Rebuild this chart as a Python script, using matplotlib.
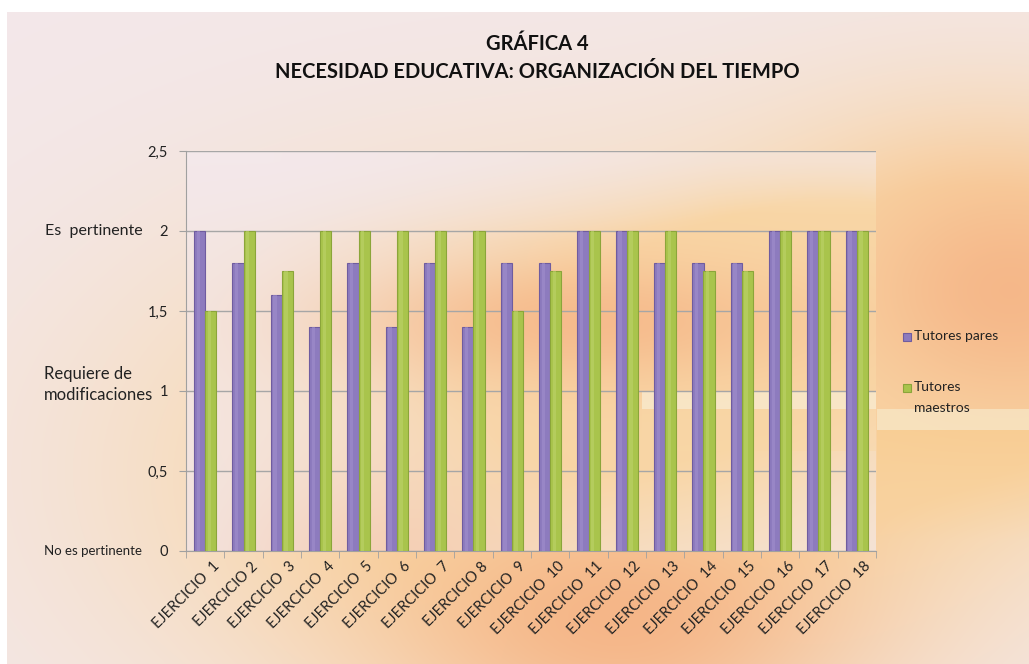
import numpy as np
import matplotlib
matplotlib.use("Agg")
import matplotlib.pyplot as plt
from matplotlib.patches import Rectangle
import matplotlib.transforms as mtransforms

plt.rcParams['font.family'] = ['Lato', 'DejaVu Sans']

categories = [f"EJERCICIO  {i}" if i not in (2, 8) else f"EJERCICIO {i}" for i in range(1, 19)]
tutores_pares = [2, 1.8, 1.6, 1.4, 1.8, 1.4, 1.8, 1.4, 1.8, 1.8, 2, 2, 1.8, 1.8, 1.8, 2, 2, 2]
tutores_maestros = [1.5, 2, 1.75, 2, 2, 2, 2, 2, 1.5, 1.75, 2, 2, 2, 1.75, 1.75, 2, 2, 2]
series_names = ["Tutores pares", "Tutores\nmaestros"]
yticks = [0, 0.5, 1, 1.5, 2, 2.5]
ytick_labels = ["0", "0,5", "1", "1,5", "2", "2,5"]
title = "GRÁFICA 4\nNECESIDAD EDUCATIVA: ORGANIZACIÓN DEL TIEMPO"

W, H = 1029, 664
fig = plt.figure(figsize=(W / 100, H / 100), dpi=100)
fig.patch.set_facecolor("white")

# ---- figure background gradient ----
pink = np.array([0.953, 0.910, 0.918])
peach = np.array([0.976, 0.840, 0.650])
orange = np.array([0.961, 0.700, 0.520])
yy, xx = np.mgrid[0:H, 0:W].astype(float)

def g(cx, cy, sx, sy):
    return np.exp(-(((xx - cx) / sx) ** 2 + ((yy - cy) / sy) ** 2))

a = np.clip(g(560, 470, 420, 260) * 1.3 + g(1000, 300, 260, 200) * 1.2, 0, 1)
b = np.clip(g(620, 620, 220, 120) * 0.9 + g(1010, 290, 160, 120) * 0.85, 0, 1)
img = pink[None, None, :] * (1 - a[..., None]) + peach[None, None, :] * a[..., None]
img = img * (1 - b[..., None]) + orange[None, None, :] * b[..., None]
band = ((xx > 876) & (yy > 408) & (yy < 430))
img[band] = img[band] * 0.35 + np.array([0.97, 0.92, 0.80]) * 0.65
wgt = np.where((xx > 876) & (yy >= 430), np.clip(1 - (yy - 430) / 110, 0, 1) * 0.55, 0)
img = img * (1 - wgt[..., None]) + np.array([0.975, 0.80, 0.55])[None, None, :] * wgt[..., None]
img[:12, :] = 1.0
img[:, :7] = 1.0
bg = fig.add_axes([0, 0, 1, 1], zorder=-10)
bg.imshow(img, extent=[0, 1, 0, 1], aspect='auto', origin='upper')
bg.axis('off')

# ---- main axes ----
ax = fig.add_axes([186 / W, 1 - 551 / H, 690 / W, 400 / H])
ax.set_xlim(0, 18)
ax.set_ylim(0, 2.5)

ph, pw = 400, 690
py, px = np.mgrid[0:ph, 0:pw].astype(float)
def gp(cx, cy, sx, sy):
    return np.exp(-(((px - cx) / sx) ** 2 + ((py - cy) / sy) ** 2))
pa = np.clip(gp(420, 230, 330, 200) * 1.2 + gp(690, 120, 200, 120), 0, 1)
topfade = np.clip((py - 10) / 80, 0, 1) * 0.6 + np.clip((px - 80) / 450, 0, 1) * 0.6
pa = pa * np.clip(topfade, 0, 1)
pb = np.clip(gp(400, 170, 230, 60) * 0.75 + gp(200, 420, 160, 100) * 0.4, 0, 1)
pimg = pink[None, None, :] * (1 - pa[..., None]) + peach[None, None, :] * pa[..., None]
pimg = pimg * (1 - pb[..., None]) + orange[None, None, :] * pb[..., None]
cream_mask = (px > 455) & (py > 240) & (py < 258)
pimg[cream_mask] = pimg[cream_mask] * 0.3 + np.array([0.975, 0.93, 0.83]) * 0.7
m2 = (px > 455) & (py >= 258) & (py < 300)
pimg[m2] = pimg[m2] * 0.5 + peach * 0.5
ax.imshow(pimg, extent=[0, 18, 0, 2.5], aspect='auto', origin='upper', zorder=0)

x = np.arange(18) + 0.5
w = 0.29
purple = "#8D7BBE"
green = "#A9C44C"
ax.bar(x - w / 2, tutores_pares, width=w, color=purple, edgecolor="#6F5C9F", linewidth=0.8, zorder=3)
ax.bar(x + w / 2, tutores_maestros, width=w, color=green, edgecolor="#8BA53A", linewidth=0.8, zorder=3)
ax.bar(x - w / 2 - w * 0.12, tutores_pares, width=w * 0.3, color="#A08FCD", linewidth=0, zorder=3.5, alpha=0.6)
ax.bar(x + w / 2 - w * 0.12, tutores_maestros, width=w * 0.3, color="#BCD36A", linewidth=0, zorder=3.5, alpha=0.6)

ax.set_yticks(yticks)
ax.set_yticklabels(ytick_labels, fontsize=10.5, color="#222222")
for yv in yticks:
    ax.axhline(yv, color="#A6A6A6", linewidth=1.0, zorder=1)

ax.set_xticks(x)
ax.set_xticklabels(categories, rotation=45, ha='right', va='top', rotation_mode='anchor', fontsize=10.5, color="#222222")
ax.set_xticks(np.arange(0, 19), minor=True)
ax.tick_params(axis='x', which='major', length=0, pad=6)
ax.tick_params(axis='x', which='minor', length=5, color="#A0A0A0", direction='out')
ax.tick_params(axis='y', length=5, color="#A0A0A0", pad=8)
offset = mtransforms.ScaledTranslation(7 / 100, 0, fig.dpi_scale_trans)
for lbl in ax.get_xticklabels():
    lbl.set_transform(lbl.get_transform() + offset)

for s in ['top', 'right']:
    ax.spines[s].set_visible(False)
ax.spines['left'].set_color("#A0A0A0")
ax.spines['bottom'].set_color("#A0A0A0")
ax.set_facecolor('none')

trans = mtransforms.blended_transform_factory(fig.transFigure, ax.transData)
ax.text(143 / W, 2, "Es  pertinente", transform=trans, ha='right', va='center', fontsize=11.5, color="#222222")
ax.text(44 / W, 1.04, "Requiere de\nmodificaciones", transform=trans, ha='left', va='center', fontsize=12, color="#222222", linespacing=1.4)
ax.text(142 / W, 0, "No es pertinente", transform=trans, ha='right', va='center', fontsize=9.5, color="#222222")

fig.text(0.522, 1 - 58 / H, title, ha='center', va='center', fontsize=14.5, fontweight='bold', color="#111111", linespacing=1.45)

# manual legend (handle aligned with first text line)
leg_colors = [(purple, "#6F5C9F"), (green, "#8BA53A")]
leg_y = [337, 388]
for (fc, ec), name, ly in zip(leg_colors, series_names, leg_y):
    fig.add_artist(Rectangle((903 / W, 1 - (ly + 4) / H), 8 / W, 8 / H, transform=fig.transFigure,
                             facecolor=fc, edgecolor=ec, linewidth=0.8))
    fig.text(914 / W, 1 - (ly - 7) / H, name, ha='left', va='top', fontsize=10, color="#222222", linespacing=1.9)

fig.savefig("out.png", dpi=100, facecolor=fig.get_facecolor())
